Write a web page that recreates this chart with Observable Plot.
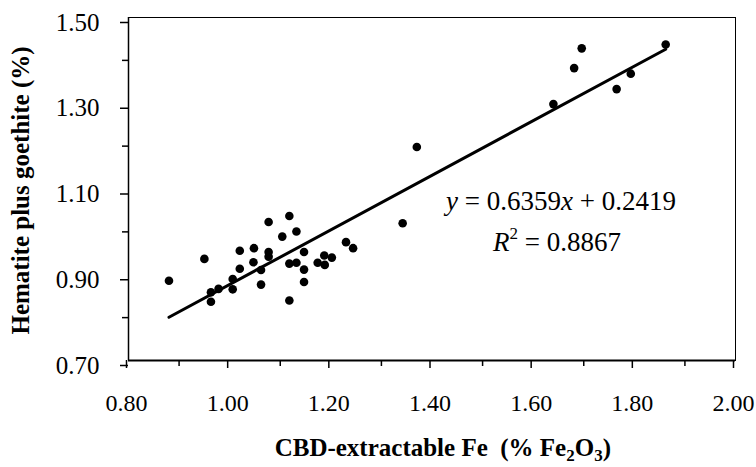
<!DOCTYPE html>
<html>
<head>
<meta charset="utf-8">
<script src="https://cdn.jsdelivr.net/npm/d3@7"></script>
<script src="https://cdn.jsdelivr.net/npm/@observablehq/plot@0.6"></script>
<style>
  html, body { margin: 0; padding: 0; background: #fff; overflow: hidden; }
  #chart { width: 756px; height: 467px; overflow: hidden; }
  #chart svg { display: block; }
</style>
</head>
<body>
<div id="chart"></div>
<script>
// CBD-extractable Fe (% Fe2O3)
const feCBD = [0.880, 0.950, 1.020, 1.048, 1.047, 1.020, 1.006, 1.006, 0.978, 0.963,
  0.963, 1.062, 1.062, 1.077, 1.118, 1.104, 1.132, 1.077, 1.077, 1.118,
  1.132, 1.147, 1.147, 1.147, 1.118, 1.174, 1.187, 1.188, 1.202, 1.230,
  1.244, 1.342, 1.370, 1.640, 1.681, 1.696, 1.765, 1.793, 1.862];
// Hematite plus goethite (%)
const hemGoe = [0.886, 0.937, 0.956, 0.962, 0.929, 0.914, 0.890, 0.866, 0.867, 0.859,
  0.837, 0.911, 0.877, 1.023, 1.037, 0.989, 1.001, 0.953, 0.942, 0.926,
  0.928, 0.953, 0.912, 0.883, 0.840, 0.928, 0.945, 0.923, 0.940, 0.976,
  0.962, 1.020, 1.198, 1.298, 1.382, 1.428, 1.333, 1.369, 1.437];
// regression line end points (y = 0.6359x + 0.2419)
const fitX = [0.880, 1.862];
const fitY = [0.801, 1.426];
// ticks
const xMajor = [0.8, 1.0, 1.2, 1.4, 1.6, 1.8, 2.0];
const xMinor = [0.9, 1.1, 1.3, 1.5, 1.7, 1.9];
const yMajor = [0.7, 0.9, 1.1, 1.3, 1.5];
const yMinor = [0.8, 1.0, 1.2, 1.4];

const points = feCBD.map((x, i) => ({x, y: hemGoe[i]}));
const fit = fitX.map((x, i) => ({x, y: fitY[i]}));

const font = "'Liberation Serif', 'Times New Roman', serif";

const plot = Plot.plot({
  width: 756,
  height: 467,
  marginLeft: 128,
  marginRight: 21,
  marginTop: 17,
  marginBottom: 107,
  x: {domain: [0.8, 2.0]},
  y: {domain: [0.7, 1.5]},
  style: {fontFamily: font, fontSize: "25px", background: "#fff", color: "#000"},
  marks: [
    Plot.frame({stroke: "#000", strokeWidth: 1}),
    Plot.ruleY([0.7], {stroke: "#000", strokeWidth: 2}),
    Plot.ruleX([0.8], {stroke: "#000", strokeWidth: 1.5}),
    Plot.axisX({ticks: xMajor, tickSize: 8, tickPadding: 25, dx: -2, tickFormat: d => d.toFixed(2), label: null, strokeWidth: 1.5, fontSize: 24}),
    Plot.axisX({ticks: xMinor, tickSize: 6, tickFormat: () => "", label: null, strokeWidth: 1.5}),
    Plot.axisY({ticks: yMajor, tickSize: 8, tickPadding: 21, dy: 5, tickFormat: d => d.toFixed(2), label: null, strokeWidth: 1.5, fontSize: 25}),
    Plot.axisY({ticks: yMinor, tickSize: 6, tickFormat: () => "", label: null, strokeWidth: 1.5}),
    Plot.line(fit, {x: "x", y: "y", stroke: "#000", strokeWidth: 3}),
    Plot.dot(points, {x: "x", y: "y", r: 4.3, fill: "#000", stroke: "none"})
  ]
});

const svg = d3.select(plot);
const sy = plot.scale("y");

// x-axis title with subscripts
const xt = svg.append("text")
  .attr("x", 611)
  .attr("y", 456)
  .attr("text-anchor", "end")
  .attr("font-family", font)
  .attr("font-size", 25)
  .attr("font-weight", "bold")
  .attr("fill", "#000");
xt.append("tspan").text("CBD-extractable Fe  (% Fe");
xt.append("tspan").attr("font-size", 17).attr("dy", 5).text("2");
xt.append("tspan").attr("dy", -5).text("O");
xt.append("tspan").attr("font-size", 17).attr("dy", 5).text("3");
xt.append("tspan").attr("dy", -5).text(")");

// y-axis title
svg.append("text")
  .attr("transform", `translate(29, ${(sy.range[0] + sy.range[1]) / 2 + 2}) rotate(-90)`)
  .attr("text-anchor", "middle")
  .attr("font-family", font)
  .attr("font-size", 25)
  .attr("font-weight", "bold")
  .attr("fill", "#000")
  .text("Hematite plus goethite (%)");

// regression equation
const eq = svg.append("text")
  .attr("x", 561).attr("y", 210)
  .attr("text-anchor", "middle")
  .attr("font-family", font).attr("font-size", 27).attr("fill", "#000");
eq.append("tspan").attr("font-style", "italic").text("y");
eq.append("tspan").text(" = 0.6359");
eq.append("tspan").attr("font-style", "italic").text("x");
eq.append("tspan").text(" + 0.2419");

const r2 = svg.append("text")
  .attr("x", 557).attr("y", 251)
  .attr("text-anchor", "middle")
  .attr("font-family", font).attr("font-size", 27).attr("fill", "#000");
r2.append("tspan").attr("font-style", "italic").text("R");
r2.append("tspan").attr("font-size", 17).attr("dy", -12).text("2");
r2.append("tspan").attr("dy", 12).text(" = 0.8867");

document.getElementById("chart").appendChild(plot);
</script>
</body>
</html>
